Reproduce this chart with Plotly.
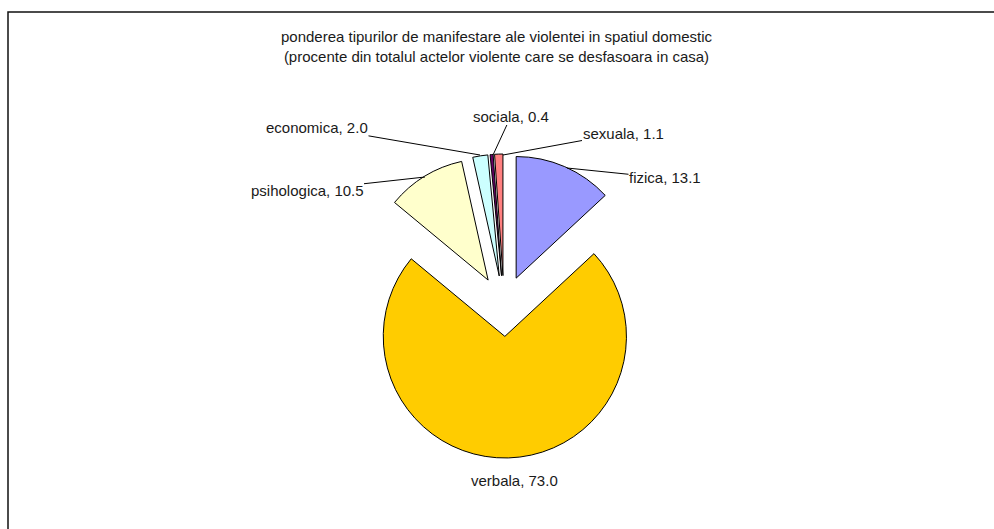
import plotly.graph_objects as go

# ── Data ──────────────────────────────────────────────────────────────────────
labels = ["fizica", "verbala", "psihologica", "economica", "sociala", "sexuala"]
values = [13.1, 73.0, 10.5, 2.0, 0.4, 1.1]
colors = ["#9999FF", "#FFCC00", "#FFFFCC", "#CCFFFF", "#660066", "#FF8080"]

TITLE = ("ponderea tipurilor de manifestare ale violentei in spatiul domestic<br>"
         "(procente din totalul actelor violente care se desfasoara in casa)")

W, H = 994, 529
FONT = dict(family="Arial, 'Liberation Sans', sans-serif", size=15, color="#1a1a1a")


def px(x, y):
    """pixel position -> paper coords (margins are zero)."""
    return x / W, 1 - y / H


# label placement: (text centre x, y, leader tip x, y) in pixels, None = no leader
label_pos = {
    "fizica":      (665, 178, 567, 168),
    "verbala":     (514, 491, None, None),
    "psihologica": (307, 190, 425, 177),
    "economica":   (317, 127, 480, 155),
    "sociala":     (511, 116, 493, 155),
    "sexuala":     (623, 133, 503, 155),
}

fig = go.Figure(go.Pie(
    labels=labels, values=values, sort=False, direction="clockwise", rotation=0,
    marker=dict(colors=colors, line=dict(color="black", width=1)),
    pull=[0.25] * len(values),
    textinfo="none", hoverinfo="label+value",
    domain=dict(x=[352 / W, 656 / W], y=[1 - 458 / H, 1 - 154 / H]),
))

annotations = []
for lab, val in zip(labels, values):
    tx, ty, lx, ly = label_pos[lab]
    text = f"{lab}, {val:.1f}"
    if lx is None:
        x, y = px(tx, ty)
        annotations.append(dict(text=text, x=x, y=y, xref="paper", yref="paper",
                                showarrow=False, font=FONT))
    else:
        x, y = px(lx, ly)
        annotations.append(dict(text=text, x=x, y=y, xref="paper", yref="paper",
                                showarrow=True, arrowhead=0, arrowwidth=1, arrowcolor="black",
                                ax=tx - lx, ay=ty - ly, font=FONT, borderpad=0))

fig.update_layout(
    width=W, height=H,
    margin=dict(l=0, r=0, t=0, b=0),
    paper_bgcolor="white", plot_bgcolor="white",
    font=FONT,
    showlegend=False,
    title=dict(text=TITLE, x=496.5 / W, xanchor="center", y=1 - 42 / H, yanchor="middle",
               yref="container", font=FONT),
    annotations=annotations,
    shapes=[dict(type="rect", xref="paper", yref="paper",
                 x0=8 / W, x1=1 + 12 / W, y0=-12 / H, y1=1 - 12 / H,
                 line=dict(color="#111111", width=1.5))],
)

fig.write_html("out.html", config={"displayModeBar": False},
               post_script="document.body.style.margin='0';document.body.style.overflow='hidden';")
